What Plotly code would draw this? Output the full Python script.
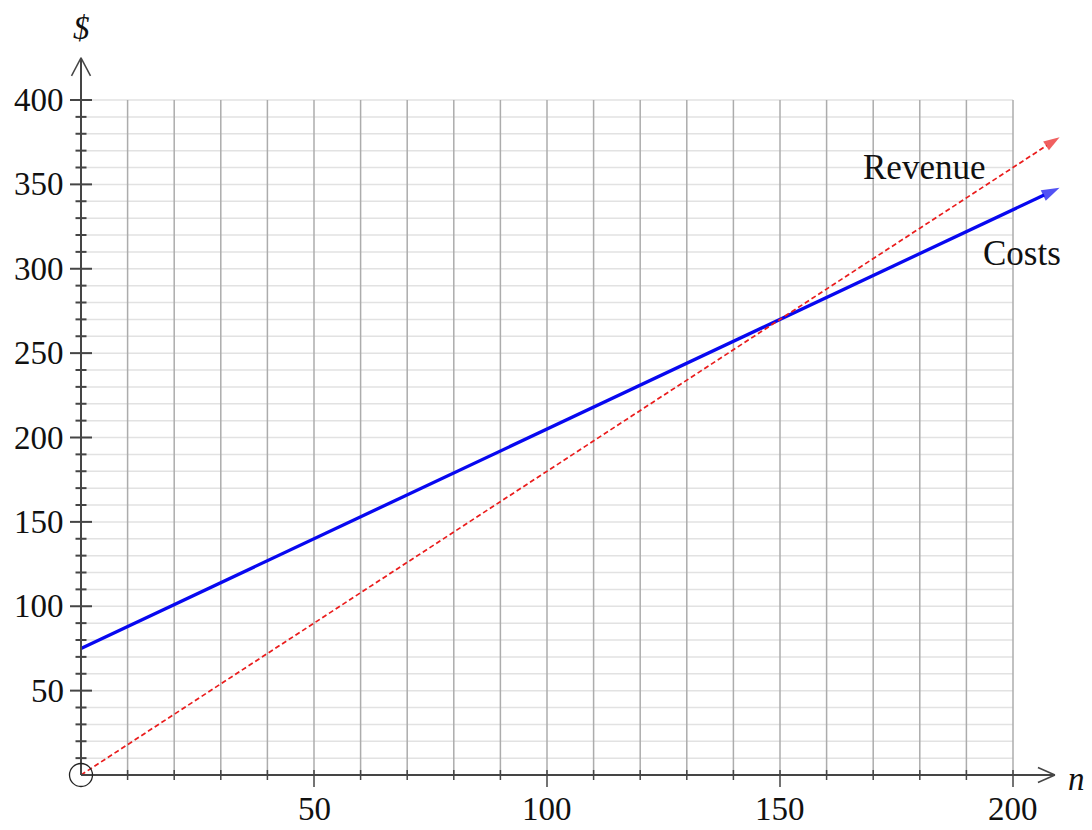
import plotly.graph_objects as go

# ---- data ----
n_vals = [0, 210]
costs = [75, 348]
revenue = [0, 378]
x_ticks_minor = list(range(10, 201, 10))
x_tick_labels = [50, 100, 150, 200]
y_ticks_minor = list(range(10, 401, 10))
y_tick_labels = [50, 100, 150, 200, 250, 300, 350, 400]
x_grid_max = 200
y_grid_max = 400
x_axis_end = 209
y_axis_end = 425

FONT = "Liberation Serif"
FS = 33
AXC = "#454545"

fig = go.Figure()

fig.add_trace(go.Scatter(
    x=n_vals, y=costs, mode="lines+markers",
    line=dict(color="#0808f0", width=3.3),
    marker=dict(symbol="arrow", angleref="previous", size=[0, 19], color="#0808f0",
                line=dict(width=0)),
    hoverinfo="skip", showlegend=False,
))
fig.add_trace(go.Scatter(
    x=n_vals, y=revenue, mode="lines+markers",
    line=dict(color="#ea1c1c", width=1.7, dash="5px,3px"),
    marker=dict(symbol="arrow", angleref="previous", size=[0, 17], color="#ea1c1c",
                line=dict(width=0)),
    hoverinfo="skip", showlegend=False,
))

shapes = []
for yv in y_ticks_minor:
    shapes.append(dict(type="line", xref="x", yref="y", x0=0, x1=x_grid_max, y0=yv, y1=yv,
                       line=dict(color="#e2e2e2", width=1.5), layer="below"))
for xv in x_ticks_minor:
    shapes.append(dict(type="line", xref="x", yref="y", x0=xv, x1=xv, y0=0, y1=y_grid_max,
                       line=dict(color="#acacac", width=1.5), layer="below"))
shapes.append(dict(type="line", xref="x", yref="y", x0=0, x1=x_axis_end, y0=0, y1=0,
                   line=dict(color=AXC, width=2)))
shapes.append(dict(type="line", xref="x", yref="y", x0=0, x1=0, y0=0, y1=y_axis_end,
                   line=dict(color=AXC, width=2)))
for dy in (7.5, -7.5):
    shapes.append(dict(type="line", xref="x", yref="y", xsizemode="pixel", ysizemode="pixel",
                       xanchor=x_axis_end, yanchor=0, x0=-17, y0=dy, x1=0, y1=0,
                       line=dict(color=AXC, width=1.5)))
for dx in (9.5, -9.5):
    shapes.append(dict(type="line", xref="x", yref="y", xsizemode="pixel", ysizemode="pixel",
                       xanchor=0, yanchor=y_axis_end, x0=dx, y0=-18, x1=0, y1=0,
                       line=dict(color=AXC, width=1.5)))
for yv in y_ticks_minor:
    half = 11 if yv in y_tick_labels else 5.5
    shapes.append(dict(type="line", xref="x", yref="y", xsizemode="pixel", xanchor=0,
                       x0=-half, x1=half, y0=yv, y1=yv, line=dict(color=AXC, width=2)))
for xv in x_ticks_minor:
    lo = -12 if xv in x_tick_labels else -5
    shapes.append(dict(type="line", xref="x", yref="y", ysizemode="pixel", yanchor=0,
                       x0=xv, x1=xv, y0=5, y1=lo, line=dict(color=AXC, width=1.5)))
shapes.append(dict(type="circle", xref="x", yref="y", xsizemode="pixel", ysizemode="pixel",
                   xanchor=0, yanchor=0, x0=-11.5, x1=11.5, y0=-11.5, y1=11.5,
                   line=dict(color="#222222", width=1.3)))

ann = []
for yv in y_tick_labels:
    ann.append(dict(x=0, y=yv, xref="x", yref="y", text=str(yv), showarrow=False,
                    xanchor="right", yanchor="middle", xshift=-15,
                    font=dict(family=FONT, size=FS, color="#111")))
for xv in x_tick_labels:
    ann.append(dict(x=xv, y=0, xref="x", yref="y", text=str(xv), showarrow=False,
                    xanchor="center", yanchor="middle", yshift=-34,
                    font=dict(family=FONT, size=FS, color="#111")))
ann.append(dict(x=0, y=y_axis_end, xref="x", yref="y", text="<i>$</i>", showarrow=False,
                xanchor="center", yanchor="middle", yshift=30,
                font=dict(family=FONT, size=FS, color="#111")))
ann.append(dict(x=x_axis_end, y=0, xref="x", yref="y", text="<i>n</i>", showarrow=False,
                xanchor="center", yanchor="middle", xshift=22, yshift=-4,
                font=dict(family=FONT, size=FS, color="#111")))
ann.append(dict(x=181, y=360, xref="x", yref="y", text="Revenue", showarrow=False,
                xanchor="center", yanchor="middle",
                font=dict(family=FONT, size=35, color="#111")))
ann.append(dict(x=202, y=309, xref="x", yref="y", text="Costs", showarrow=False,
                xanchor="center", yanchor="middle",
                font=dict(family=FONT, size=35, color="#111")))

# page body has an 8px margin, so the figure is placed at (8, 8)
W, H = 1084, 822
ox, oy = 73, 767
px_per_x = 4.66
px_per_y = 1.6875
fig.update_layout(
    width=W, height=H,
    margin=dict(l=0, r=0, t=0, b=0),
    paper_bgcolor="white", plot_bgcolor="white",
    xaxis=dict(range=[-ox / px_per_x, (W - ox) / px_per_x], visible=False, fixedrange=True),
    yaxis=dict(range=[-(H - oy) / px_per_y, oy / px_per_y], visible=False, fixedrange=True),
    shapes=shapes, annotations=ann, showlegend=False,
)
fig.write_html("out.html")
